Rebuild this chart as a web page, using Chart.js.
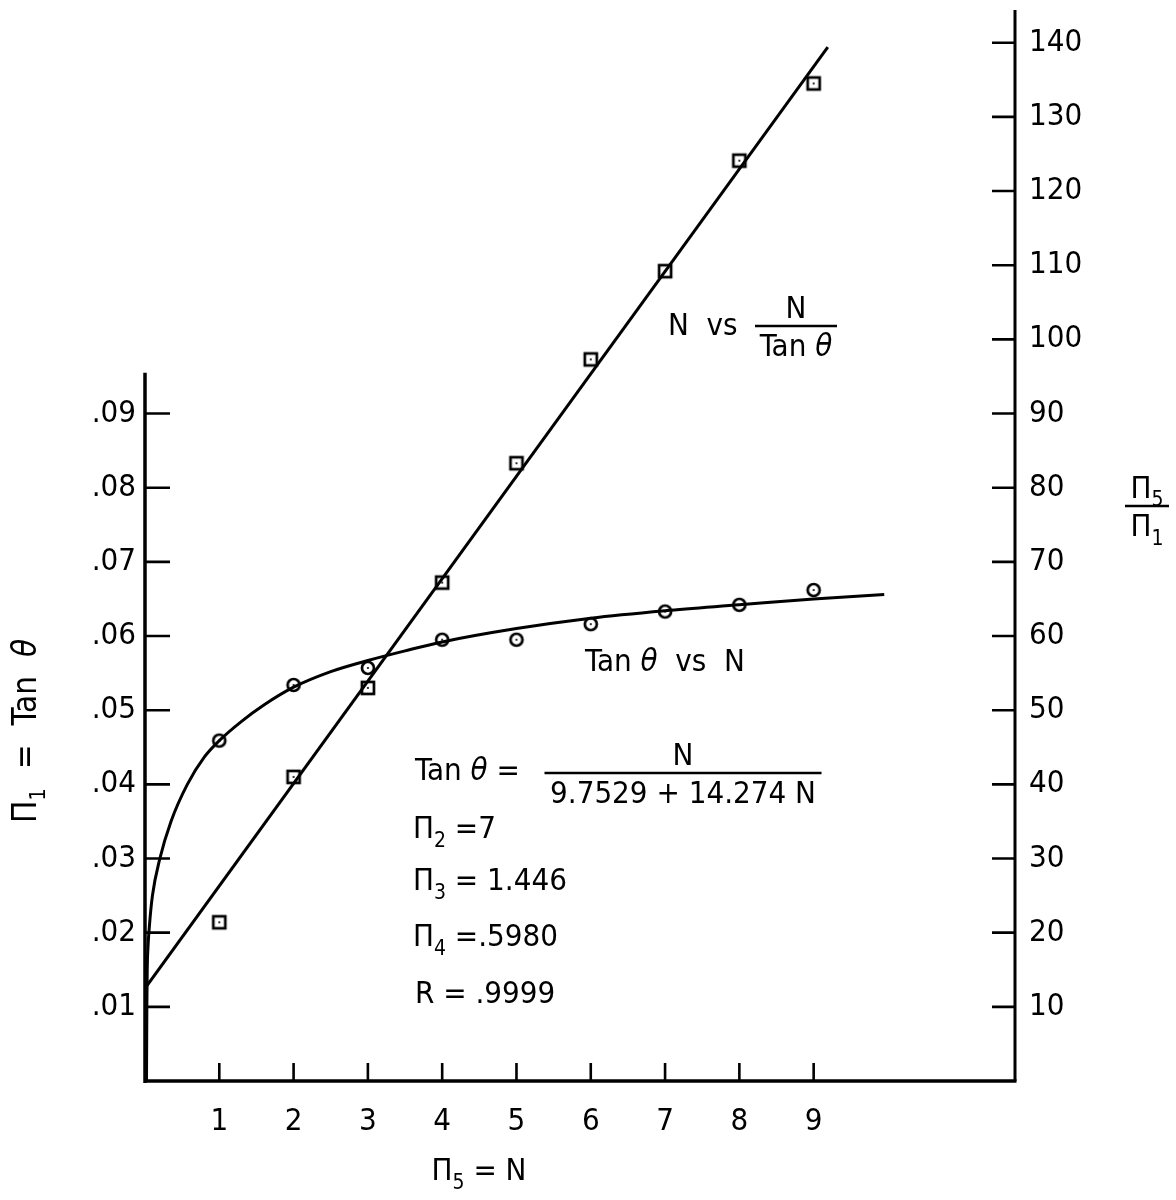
<!DOCTYPE html>
<html>
<head>
<meta charset="utf-8">
<script src="https://cdn.jsdelivr.net/npm/chart.js@4/dist/chart.umd.min.js"></script>
<style>
  html, body { margin: 0; padding: 0; background: #fff; }
  #wrap { width: 1176px; height: 1200px; position: relative; }
</style>
</head>
<body>
<div id="wrap"><canvas id="c" width="1176" height="1200"></canvas></div>
<script>
// Measured points: tan(theta) against N (left axis)
const nValues = [1, 2, 3, 4, 5, 6, 7, 8, 9];
const tanTheta = [0.0459, 0.0534, 0.0557, 0.0595, 0.0595, 0.0616, 0.0633, 0.0642, 0.0662];
// Measured points: N / tan(theta) against N (right axis)
const nOverTan = [21.4, 41.0, 53.0, 67.2, 83.3, 97.3, 109.2, 124.1, 134.5];

// Hand-faired curve through the tan(theta) points
const curveN   = [0.02, 0.025, 0.03, 0.04, 0.06, 0.1, 0.2, 0.35, 0.57, 0.8, 1.0, 1.3, 1.6, 2.0, 2.5, 3.0, 3.5, 4.0, 5.0, 6.0, 7.0, 8.0, 9.0, 9.95];
const curveTan = [0.0, 0.010, 0.015, 0.018, 0.021, 0.025, 0.030, 0.035, 0.040, 0.0437, 0.0459, 0.0485, 0.0507, 0.0531, 0.0552, 0.0567, 0.0580, 0.0592, 0.0610, 0.0624, 0.0634, 0.0642, 0.0650, 0.0656];

// Straight line through the N / tan(theta) points
const lineN = [0, 9.19];
const lineRatio = [12.5, 139.4];

// Tick labels
const xTicks = [1, 2, 3, 4, 5, 6, 7, 8, 9];
const leftTicks = [0.01, 0.02, 0.03, 0.04, 0.05, 0.06, 0.07, 0.08, 0.09];
const leftTickLabels = ['.01', '.02', '.03', '.04', '.05', '.06', '.07', '.08', '.09'];
const rightTicks = [10, 20, 30, 40, 50, 60, 70, 80, 90, 100, 110, 120, 130, 140];

const FONT = "'DejaVu Sans Condensed', 'Liberation Sans Narrow', 'DejaVu Sans', sans-serif";
const INK = '#000';

function markerCanvas(kind) {
  const c = document.createElement('canvas');
  c.width = 18; c.height = 18;
  const g = c.getContext('2d');
  g.strokeStyle = INK; g.fillStyle = INK; g.lineWidth = 2.7;
  if (kind === 'circle') {
    g.beginPath(); g.arc(9, 9, 6, 0, Math.PI * 2); g.stroke();
  } else {
    g.strokeRect(3, 3, 12, 12);
  }
  g.beginPath(); g.arc(9, 9, 1.1, 0, Math.PI * 2); g.fill();
  return c;
}
const circleMark = markerCanvas('circle');
const squareMark = markerCanvas('square');

// Draw a run of text pieces, some of which may be subscripts
function drawRuns(ctx, x, y, runs, size, align) {
  const subSize = Math.round(size * 0.68);
  let total = 0;
  const widths = runs.map(r => {
    ctx.font = (r.italic ? 'italic ' : '') + (r.sub ? subSize : size) + 'px ' + FONT;
    const w = ctx.measureText(r.t).width;
    total += w;
    return w;
  });
  let cx = align === 'center' ? x - total / 2 : (align === 'right' ? x - total : x);
  ctx.textAlign = 'left';
  ctx.textBaseline = 'middle';
  runs.forEach((r, i) => {
    ctx.font = (r.italic ? 'italic ' : '') + (r.sub ? subSize : size) + 'px ' + FONT;
    ctx.fillText(r.t, cx, r.sub ? y + size * 0.36 : y);
    cx += widths[i];
  });
  return total;
}

function fraction(ctx, cx, yBar, top, bottom, size, barW) {
  const w1 = drawRuns(ctx, cx, yBar - size * 0.52, top, size, 'center');
  const w2 = drawRuns(ctx, cx, yBar + size * 0.72, bottom, size, 'center');
  const w = barW || Math.max(w1, w2) + 6;
  ctx.beginPath();
  ctx.lineWidth = 2.5;
  ctx.moveTo(cx - w / 2, yBar);
  ctx.lineTo(cx + w / 2, yBar);
  ctx.stroke();
}

const axesPlugin = {
  id: 'axesAndNotes',
  afterDraw(chart) {
    const ctx = chart.ctx;
    const xs = chart.scales.x, yl = chart.scales.y, yr = chart.scales.y2;
    const x0 = xs.getPixelForValue(0);
    const xEnd = chart.chartArea.right;
    const yBase = yl.getPixelForValue(0);
    ctx.save();
    ctx.strokeStyle = INK; ctx.fillStyle = INK;
    ctx.lineCap = 'butt';

    // axis lines
    ctx.lineWidth = 3.5;
    ctx.beginPath();
    ctx.moveTo(x0, yl.getPixelForValue(0.0955)); ctx.lineTo(x0, yBase + 2);
    ctx.moveTo(x0 - 1.5, yBase); ctx.lineTo(xEnd + 1.5, yBase);
    ctx.stroke();
    ctx.lineWidth = 3;
    ctx.beginPath();
    ctx.moveTo(xEnd, chart.chartArea.top); ctx.lineTo(xEnd, yBase);
    ctx.stroke();

    // inward tick marks
    ctx.lineWidth = 2.6;
    ctx.beginPath();
    leftTicks.forEach(v => {
      const p = yl.getPixelForValue(v);
      ctx.moveTo(x0, p); ctx.lineTo(x0 + 25, p);
    });
    rightTicks.forEach(v => {
      const p = yr.getPixelForValue(v);
      ctx.moveTo(xEnd, p); ctx.lineTo(xEnd - 23, p);
    });
    xTicks.forEach(v => {
      const p = xs.getPixelForValue(v);
      ctx.moveTo(p, yBase); ctx.lineTo(p, yBase - 18);
    });
    ctx.stroke();

    const S = 31;
    // axis titles
    drawRuns(ctx, 479, 1172, [{t: 'Π'}, {t: '5', sub: true}, {t: ' = N'}], S, 'center');
    ctx.save();
    ctx.translate(27, 731);
    ctx.rotate(-Math.PI / 2);
    drawRuns(ctx, 0, 0, [{t: 'Π'}, {t: '1', sub: true}, {t: '  =  Tan  '}, {t: 'θ', italic: true}], 33, 'center');
    ctx.restore();
    fraction(ctx, 1147, 506, [{t: 'Π'}, {t: '5', sub: true}], [{t: 'Π'}, {t: '1', sub: true}], S, 44);

    // curve labels
    drawRuns(ctx, 668, 327, [{t: 'N  vs'}], S, 'left');
    fraction(ctx, 796, 326, [{t: 'N'}], [{t: 'Tan '}, {t: 'θ', italic: true}], S, 82);
    drawRuns(ctx, 585, 663, [{t: 'Tan '}, {t: 'θ', italic: true}, {t: '  vs  N'}], S, 'left');

    // fitted equation and parameters
    drawRuns(ctx, 415, 772, [{t: 'Tan '}, {t: 'θ', italic: true}, {t: ' ='}], S, 'left');
    fraction(ctx, 683, 773, [{t: 'N'}], [{t: '9.7529 + 14.274 N'}], S, 277);
    drawRuns(ctx, 413, 830, [{t: 'Π'}, {t: '2', sub: true}, {t: ' =7'}], S, 'left');
    drawRuns(ctx, 413, 882, [{t: 'Π'}, {t: '3', sub: true}, {t: ' = 1.446'}], S, 'left');
    drawRuns(ctx, 413, 938, [{t: 'Π'}, {t: '4', sub: true}, {t: ' =.5980'}], S, 'left');
    drawRuns(ctx, 415, 995, [{t: 'R = .9999'}], S, 'left');
    ctx.restore();
  }
};

const pts = (xs, ys) => xs.map((x, i) => ({x: x, y: ys[i]}));

// Keep the plot area fixed: no extra room reserved for overhanging tick labels
function noOverhang(s) {
  s.paddingTop = 0; s.paddingBottom = 0; s.paddingLeft = 0; s.paddingRight = 0;
}

new Chart(document.getElementById('c'), {
  type: 'scatter',
  data: {
    datasets: [
      {
        data: pts(curveN, curveTan), yAxisID: 'y', showLine: true,
        borderColor: INK, borderWidth: 3, pointRadius: 0,
        cubicInterpolationMode: 'monotone', fill: false
      },
      {
        data: pts(nValues, tanTheta), yAxisID: 'y',
        pointStyle: circleMark, pointRadius: 9, showLine: false
      },
      {
        data: pts(lineN, lineRatio), yAxisID: 'y2', showLine: true,
        borderColor: INK, borderWidth: 3, pointRadius: 0, tension: 0
      },
      {
        data: pts(nValues, nOverTan), yAxisID: 'y2',
        pointStyle: squareMark, pointRadius: 9, showLine: false
      }
    ]
  },
  options: {
    responsive: false,
    animation: false,
    events: [],
    layout: { padding: { top: 8, left: 0, right: 0, bottom: 0 } },
    plugins: { legend: { display: false }, tooltip: { enabled: false } },
    scales: {
      x: {
        type: 'linear', position: 'bottom', min: 0, max: 11.71,
        afterFit: s => { s.height = 119; noOverhang(s); },
        afterBuildTicks: s => { s.ticks = xTicks.map(v => ({value: v})); },
        grid: { display: false, drawTicks: false }, border: { display: false },
        ticks: { color: INK, padding: 22, font: { family: FONT, size: 31 }, maxRotation: 0, autoSkip: false,
                 callback: v => String(v) }
      },
      y: {
        type: 'linear', position: 'left', min: 0, max: 0.14441,
        afterFit: s => { s.width = 145; noOverhang(s); },
        afterBuildTicks: s => { s.ticks = leftTicks.map(v => ({value: v})); },
        grid: { display: false, drawTicks: false }, border: { display: false },
        ticks: { color: INK, padding: 9, font: { family: FONT, size: 31 }, autoSkip: false,
                 callback: (v, i) => leftTickLabels[i] }
      },
      y2: {
        type: 'linear', position: 'right', min: 0, max: 144.41,
        afterFit: s => { s.width = 161; noOverhang(s); },
        afterBuildTicks: s => { s.ticks = rightTicks.map(v => ({value: v})); },
        grid: { display: false, drawTicks: false }, border: { display: false },
        ticks: { color: INK, padding: 14, font: { family: FONT, size: 31 }, autoSkip: false,
                 callback: v => String(v) }
      }
    }
  },
  plugins: [axesPlugin]
});
</script>
</body>
</html>
